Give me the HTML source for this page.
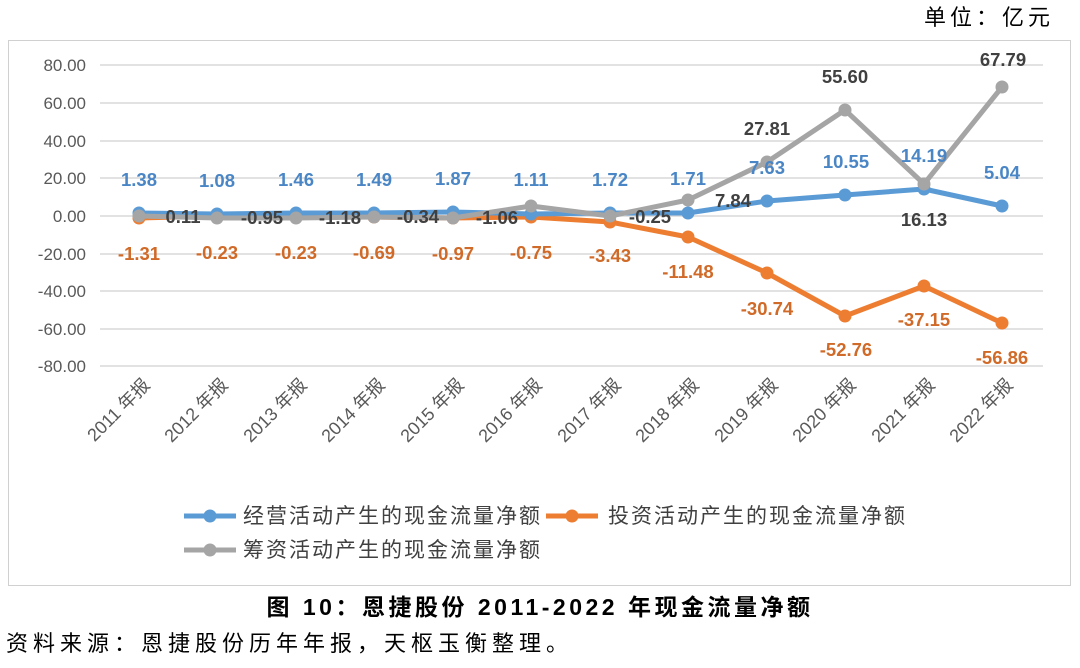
<!DOCTYPE html>
<html><head><meta charset="utf-8"><style>
body{margin:0;background:#fff;width:1080px;height:663px;overflow:hidden}
svg{font-family:"Liberation Sans","Noto Sans CJK SC",sans-serif}
</style></head><body>
<svg width="1080" height="663" viewBox="0 0 1080 663">
<text x="1054" y="25" font-size="22" letter-spacing="4" text-anchor="end" fill="#000">单位：亿元</text>
<rect x="8.5" y="40.5" width="1062" height="545" fill="none" stroke="#d0d0d0"/>
<g stroke="#d9d9d9" stroke-width="1.5">
<line x1="100" x2="1043" y1="65" y2="65"/><line x1="100" x2="1043" y1="103" y2="103"/>
<line x1="100" x2="1043" y1="141" y2="141"/><line x1="100" x2="1043" y1="178" y2="178"/>
<line x1="100" x2="1043" y1="216" y2="216"/><line x1="100" x2="1043" y1="254" y2="254"/>
<line x1="100" x2="1043" y1="291" y2="291"/><line x1="100" x2="1043" y1="329" y2="329"/>
<line x1="100" x2="1043" y1="366" y2="366"/>
</g>
<g font-size="17" fill="#595959" text-anchor="end">
<text x="86" y="71">80.00</text><text x="86" y="109">60.00</text><text x="86" y="147">40.00</text>
<text x="86" y="184">20.00</text><text x="86" y="222">0.00</text><text x="86" y="260">-20.00</text>
<text x="86" y="297">-40.00</text><text x="86" y="335">-60.00</text><text x="86" y="372">-80.00</text>
</g>
<g font-size="18" fill="#595959" text-anchor="end">
<text transform="translate(151,386) rotate(-45)">2011 年报</text>
<text transform="translate(229,386) rotate(-45)">2012 年报</text>
<text transform="translate(308,386) rotate(-45)">2013 年报</text>
<text transform="translate(386,386) rotate(-45)">2014 年报</text>
<text transform="translate(465,386) rotate(-45)">2015 年报</text>
<text transform="translate(543,386) rotate(-45)">2016 年报</text>
<text transform="translate(622,386) rotate(-45)">2017 年报</text>
<text transform="translate(700,386) rotate(-45)">2018 年报</text>
<text transform="translate(779,386) rotate(-45)">2019 年报</text>
<text transform="translate(857,386) rotate(-45)">2020 年报</text>
<text transform="translate(936,386) rotate(-45)">2021 年报</text>
<text transform="translate(1014,386) rotate(-45)">2022 年报</text>
</g>
<g fill="#ed7d31">
<polyline fill="none" stroke="#ed7d31" stroke-width="5" stroke-linejoin="round" points="139,218 217,216 296,216 374,217 453,218 531,217 610,222 688,237 767,273 845,316 924,286 1002,323"/>
<circle cx="139" cy="218" r="6.5"/><circle cx="217" cy="216" r="6.5"/><circle cx="296" cy="216" r="6.5"/><circle cx="374" cy="217" r="6.5"/><circle cx="453" cy="218" r="6.5"/><circle cx="531" cy="217" r="6.5"/><circle cx="610" cy="222" r="6.5"/><circle cx="688" cy="237" r="6.5"/><circle cx="767" cy="273" r="6.5"/><circle cx="845" cy="316" r="6.5"/><circle cx="924" cy="286" r="6.5"/><circle cx="1002" cy="323" r="6.5"/>
</g>
<g fill="#5b9bd5">
<polyline fill="none" stroke="#5b9bd5" stroke-width="5" stroke-linejoin="round" points="139,213 217,214 296,213 374,213 453,212 531,214 610,213 688,213 767,201 845,195 924,189 1002,206"/>
<circle cx="139" cy="213" r="6.5"/><circle cx="217" cy="214" r="6.5"/><circle cx="296" cy="213" r="6.5"/><circle cx="374" cy="213" r="6.5"/><circle cx="453" cy="212" r="6.5"/><circle cx="531" cy="214" r="6.5"/><circle cx="610" cy="213" r="6.5"/><circle cx="688" cy="213" r="6.5"/><circle cx="767" cy="201" r="6.5"/><circle cx="845" cy="195" r="6.5"/><circle cx="924" cy="189" r="6.5"/><circle cx="1002" cy="206" r="6.5"/>
</g>
<g fill="#a5a5a5">
<polyline fill="none" stroke="#a5a5a5" stroke-width="5" stroke-linejoin="round" points="139,216 217,218 296,218 374,217 453,218 531,206 610,216 688,200 767,162 845,110 924,184 1002,87"/>
<circle cx="139" cy="216" r="6.5"/><circle cx="217" cy="218" r="6.5"/><circle cx="296" cy="218" r="6.5"/><circle cx="374" cy="217" r="6.5"/><circle cx="453" cy="218" r="6.5"/><circle cx="531" cy="206" r="6.5"/><circle cx="610" cy="216" r="6.5"/><circle cx="688" cy="200" r="6.5"/><circle cx="767" cy="162" r="6.5"/><circle cx="845" cy="110" r="6.5"/><circle cx="924" cy="184" r="6.5"/><circle cx="1002" cy="87" r="6.5"/>
</g>
<g font-size="18.5" font-weight="bold" text-anchor="middle">
<g fill="#4a86c5">
<text x="139" y="186">1.38</text><text x="217" y="187">1.08</text><text x="296" y="186">1.46</text><text x="374" y="186">1.49</text><text x="453" y="185">1.87</text><text x="531" y="186">1.11</text><text x="610" y="186">1.72</text><text x="688" y="185">1.71</text><text x="767" y="174">7.63</text><text x="846" y="168">10.55</text><text x="924" y="162">14.19</text><text x="1002" y="179">5.04</text>
</g>
<g fill="#404040">
<text x="183" y="223">0.11</text><text x="262" y="224">-0.95</text><text x="340" y="224">-1.18</text><text x="418" y="223">-0.34</text><text x="497" y="224">-1.06</text><text x="650" y="223">-0.25</text><text x="733" y="207">7.84</text><text x="767" y="135">27.81</text><text x="845" y="83">55.60</text><text x="924" y="226">16.13</text><text x="1003" y="66">67.79</text>
</g>
<g fill="#d06a28">
<text x="139" y="260">-1.31</text><text x="217" y="259">-0.23</text><text x="296" y="259">-0.23</text><text x="374" y="259">-0.69</text><text x="453" y="260">-0.97</text><text x="531" y="259">-0.75</text><text x="610" y="262">-3.43</text><text x="688" y="278">-11.48</text><text x="767" y="315">-30.74</text><text x="846" y="356">-52.76</text><text x="924" y="326">-37.15</text><text x="1002" y="364">-56.86</text>
</g>
</g>
<g font-size="21" fill="#404040" letter-spacing="2">
<line x1="184" x2="236" y1="516" y2="516" stroke="#5b9bd5" stroke-width="5"/><circle cx="210" cy="516" r="6.5" fill="#5b9bd5"/>
<text x="243" y="523">经营活动产生的现金流量净额</text>
<line x1="546" x2="598" y1="516" y2="516" stroke="#ed7d31" stroke-width="5"/><circle cx="572" cy="516" r="6.5" fill="#ed7d31"/>
<text x="608" y="523">投资活动产生的现金流量净额</text>
<line x1="184" x2="236" y1="550" y2="550" stroke="#a5a5a5" stroke-width="5"/><circle cx="210" cy="550" r="6.5" fill="#a5a5a5"/>
<text x="243" y="557">筹资活动产生的现金流量净额</text>
</g>
<text x="540" y="615" font-size="23" font-weight="bold" letter-spacing="3.5" text-anchor="middle" fill="#000">图 10：恩捷股份 2011-2022 年现金流量净额</text>
<text x="6" y="651" font-size="22" letter-spacing="5" fill="#000">资料来源：恩捷股份历年年报，天枢玉衡整理。</text>
</svg>
</body></html>
